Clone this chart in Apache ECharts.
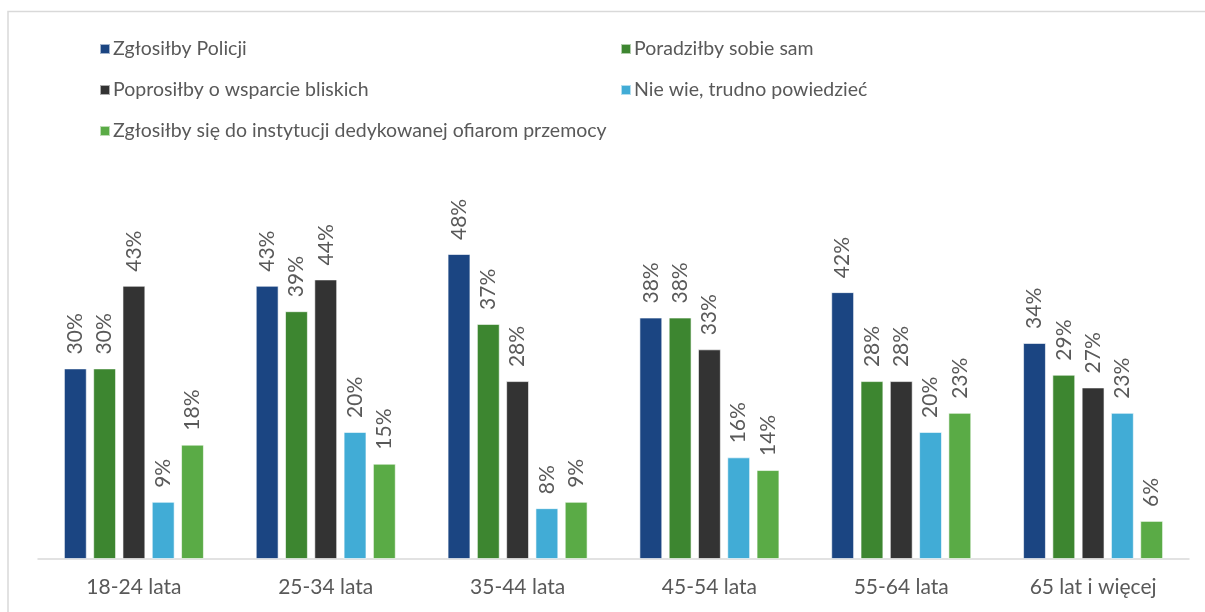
<!DOCTYPE html>
<html>
<head>
<meta charset="utf-8">
<script src="https://cdn.jsdelivr.net/npm/echarts@6/dist/echarts.min.js"></script>
<style>
  html, body { margin: 0; padding: 0; background: #fff; }
  #main { width: 1205px; height: 612px; }
</style>
</head>
<body>
<div id="main"></div>
<script>
// kategorie wiekowe
var categories = ['18-24 lata', '25-34 lata', '35-44 lata', '45-54 lata', '55-64 lata', '65 lat i więcej'];

// serie (w procentach)
var policja = [30, 43, 48, 38, 42, 34];
var samodzielnie = [30, 39, 37, 38, 28, 29];
var bliscy = [43, 44, 28, 33, 28, 27];
var nieWie = [9, 20, 8, 16, 20, 23];
var instytucja = [18, 15, 9, 14, 23, 6];

var names = [
    'Zgłosiłby Policji',
    'Poradziłby sobie sam',
    'Poprosiłby o wsparcie bliskich',
    'Nie wie, trudno powiedzieć',
    'Zgłosiłby się do instytucji dedykowanej ofiarom przemocy'
];
var colors = ['#1b4582', '#3d8630', '#333333', '#41acd6', '#5aab46'];
var values = [policja, samodzielnie, bliscy, nieWie, instytucja];

var textColor = '#595959';
var font = 'Lato, "Open Sans", sans-serif';

function makeSeries() {
    var out = [];
    for (var i = 0; i < names.length; i++) {
        out.push({
            name: names[i],
            type: 'bar',
            data: values[i],
            barGap: '28%',
            barCategoryGap: '27%',
            itemStyle: {color: colors[i], borderColor: 'rgba(255,255,255,0.6)', borderWidth: 1},
            label: {
                show: true,
                position: 'top',
                rotate: 90,
                align: 'left',
                verticalAlign: 'middle',
                distance: 14,
                formatter: '{c}%',
                color: textColor,
                fontSize: 21,
                fontFamily: font
            }
        });
    }
    return out;
}

var myChart = echarts.init(document.getElementById('main'));
var option = {
    animation: false,
    color: colors,
    graphic: [{
        type: 'rect',
        shape: {x: 8, y: 11.5, width: 1220, height: 640},
        style: {fill: 'none', stroke: '#d9d9d9', lineWidth: 1.5},
        silent: true
    }],
    legend: [
        {
            orient: 'vertical',
            left: 94,
            top: 34,
            itemWidth: 10,
            itemHeight: 10,
            itemGap: 21,
            icon: 'rect',
            data: [names[0], names[2], names[4]],
            textStyle: {color: textColor, fontSize: 19.5, fontFamily: font, padding: [0, 0, 0, -2]}
        },
        {
            orient: 'vertical',
            left: 615,
            top: 34,
            itemWidth: 10,
            itemHeight: 10,
            itemGap: 21,
            icon: 'rect',
            data: [names[1], names[3]],
            textStyle: {color: textColor, fontSize: 19.5, fontFamily: font, padding: [0, 0, 0, -2]}
        }
    ],
    grid: {
        left: 38,
        right: 16,
        top: 254,
        bottom: 53,
        containLabel: false
    },
    xAxis: {
        type: 'category',
        data: categories,
        axisLine: {lineStyle: {color: '#d9d9d9', width: 1.5}},
        axisTick: {show: false},
        axisLabel: {color: textColor, fontSize: 21, fontFamily: font, margin: 18}
    },
    yAxis: {
        type: 'value',
        min: 0,
        max: 48,
        show: false,
        splitLine: {show: false}
    },
    series: makeSeries()
};
myChart.setOption(option);
</script>
</body>
</html>
